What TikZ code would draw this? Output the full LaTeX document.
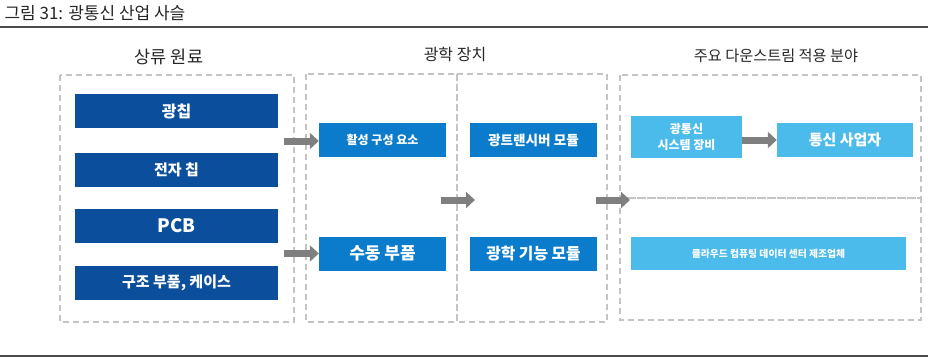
\documentclass[tikz,border=0pt]{standalone}
\usepackage{fontspec}
\setmainfont{Noto Sans CJK KR}
\usepackage{xcolor}
\usetikzlibrary{arrows.meta}

\definecolor{deepblue}{HTML}{0B4F9C}
\definecolor{midblue}{HTML}{0B7BCB}
\definecolor{skyblue}{HTML}{4BBBEB}
\definecolor{dashgray}{HTML}{C4C4C4}
\definecolor{arrgray}{HTML}{7F7F7F}

\tikzset{
  upbox/.style={fill=deepblue, text=white, font=\bfseries, inner sep=0pt,
    minimum width=203pt, minimum height=34pt},
  devbox/.style={fill=midblue, text=white, font=\bfseries, inner sep=0pt,
    minimum width=127pt, minimum height=34pt},
  appbox/.style={fill=skyblue, text=white, font=\bfseries, inner sep=0pt,
    minimum height=34pt, align=center},
  zone/.style={draw=dashgray, line width=1.1pt, dash pattern=on 6pt off 4pt},
  flow/.style={draw=arrgray, line width=7pt,
    -{Triangle[length=9pt, width=16pt]}},
  header/.style={font=\fontsize{16}{18}\selectfont, text=black!85}
}

\begin{document}
\begin{tikzpicture}[x=1pt, y=-1pt]
\useasboundingbox (0,0) rectangle (928,361);

% ========= 제목 =========
\node[anchor=base west, font=\fontsize{17}{19}\selectfont, text=black!85] (title) at (1,20) {그림 31: 광통신 산업 사슬};
\draw[black!70, line width=1.3pt] (0,27) -- (928,27);
\draw[black!70, line width=2pt] (0,356) -- (928,356);

% ========= 왼쪽: 상류 원료 =========
\node[header, font=\fontsize{17.5}{20}\selectfont] (hup) at (169,57) {상류 원료};
\draw[zone] (60,75) rectangle (294,322);
\node[upbox, font=\bfseries\fontsize{16}{18}\selectfont] (chip) at (176.5,111) {광칩};
\node[upbox, font=\bfseries\fontsize{15}{17}\selectfont] (echip) at (176.5,170) {전자 칩};
\node[upbox, font=\bfseries\fontsize{18.5}{20}\selectfont] (pcb) at (176.5,226) {PCB};
\node[upbox, font=\bfseries\fontsize{15}{17}\selectfont] (case) at (176.5,282.5) {구조 부품, 케이스};

% ========= 가운데: 광학 장치 =========
\node[header] (hdev) at (455,54) {광학 장치};
\draw[zone] (306,74) rectangle (457,322);
\draw[zone] (457,74) rectangle (607,322);
\node[devbox, font=\bfseries\fontsize{12}{14}\selectfont] (active) at (382.5,140) {활성 구성 요소};
\node[devbox, font=\bfseries\fontsize{13.6}{15}\selectfont] (trx) at (533.5,140) {광트랜시버 모듈};
\node[devbox, font=\bfseries\fontsize{17}{19}\selectfont] (passive) at (382.5,253.5) {수동 부품};
\node[devbox, font=\bfseries\fontsize{15.8}{18}\selectfont] (func) at (533.5,253.5) {광학 기능 모듈};

% ========= 오른쪽: 주요 다운스트림 적용 분야 =========
\node[header, font=\fontsize{15.2}{17}\selectfont] (happ) at (776,56) {주요 다운스트림 적용 분야};
\draw[zone] (620,75) rectangle (921,198);
\draw[zone] (620,198) rectangle (921,320);
\node[appbox, minimum width=111pt, minimum height=42pt, font=\bfseries\fontsize{12}{16}\selectfont] (sys) at (686.5,137) {광통신\\시스템 장비};
\node[appbox, minimum width=136pt, font=\bfseries\fontsize{15}{17}\selectfont] (carrier) at (845,140) {통신 사업자};
\node[appbox, minimum width=275pt, minimum height=33pt, font=\bfseries\fontsize{9.8}{11}\selectfont] (cloud) at (768.5,253.5) {클라우드 컴퓨팅 데이터 센터 제조업체};

% ========= 화살표 =========
\coordinate (s1) at (284,141);
\coordinate (s2) at (284,253.5);
\coordinate (s3) at (441,200);
\coordinate (e3) at (475,200);
\coordinate (s4) at (596,200);
\coordinate (e4) at (630,200);
\draw[flow] (s1) -- (s1 -| active.west);
\draw[flow] (s2) -- (passive.west);
\draw[flow] (s3) -- (e3);
\draw[flow] (s4) -- (e4);
\draw[flow] (sys.east |- carrier.west) -- (carrier.west);
\end{tikzpicture}
\end{document}
